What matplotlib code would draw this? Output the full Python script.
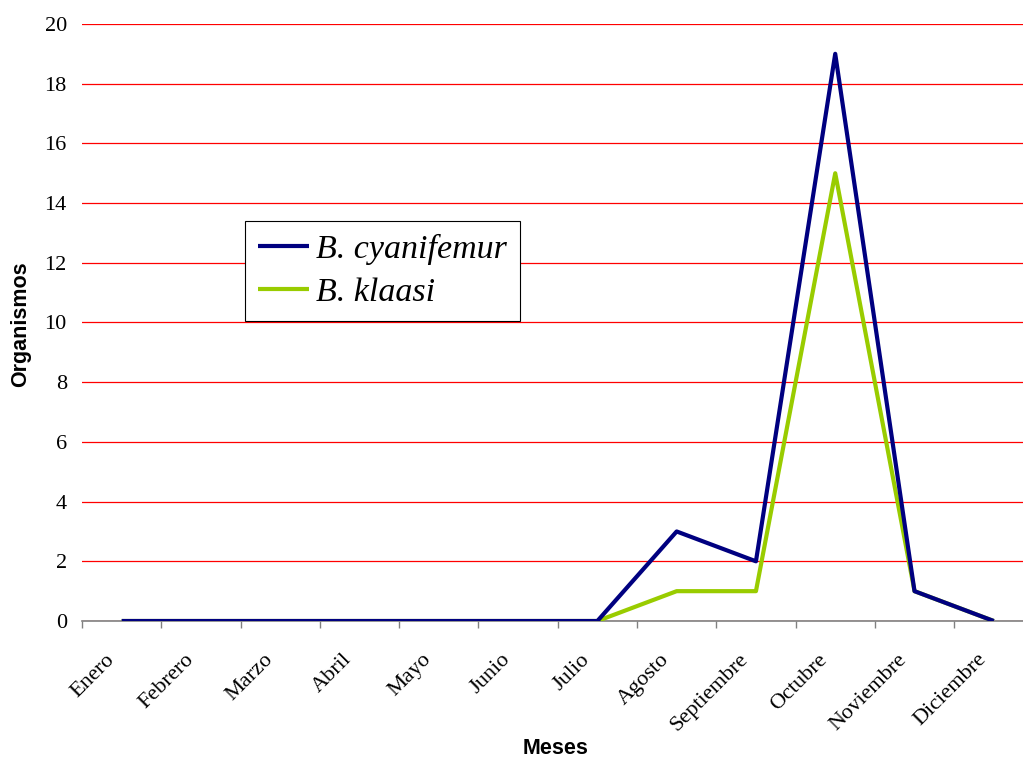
import matplotlib.pyplot as plt
import matplotlib.transforms as mtransforms
import numpy as np

meses = ['Enero', 'Febrero', 'Marzo', 'Abril', 'Mayo', 'Junio', 'Julio',
         'Agosto', 'Septiembre', 'Octubre', 'Noviembre', 'Diciembre']
cyanifemur = [0, 0, 0, 0, 0, 0, 0, 3, 2, 19, 1, 0]
klaasi = [0, 0, 0, 0, 0, 0, 0, 1, 1, 15, 1, 0]

serif = 'Liberation Serif'
sans = 'Liberation Sans'

fig = plt.figure(figsize=(10.23, 7.59), dpi=100)
# plot area runs slightly past the right edge of the figure
ax = fig.add_axes([0.0802, 0.1818, 0.930, 0.7866])

x = np.arange(len(meses))
ax.plot(x, klaasi, color='#99CC00', lw=3.0, solid_capstyle='butt', label='B. klaasi', zorder=3)
ax.plot(x, cyanifemur, color='#000080', lw=3.0, solid_capstyle='butt', label='B. cyanifemur', zorder=4)

ax.set_xlim(-0.5, len(meses) - 0.5)
ax.set_ylim(0, 20)
ax.set_yticks(np.arange(0, 21, 2))
ax.yaxis.grid(True, color='#FF0000', lw=0.9)
ax.set_axisbelow(True)

# category ticks sit on the boundaries, labels at the centres
ax.set_xticks(np.arange(-0.5, len(meses), 1.0))
ax.set_xticklabels([])
ax.set_xticks(x, minor=True)
ax.set_xticklabels(meses, minor=True, rotation=45, ha='right', rotation_mode='anchor',
                   fontfamily=serif, fontsize=16)
ax.tick_params(axis='x', which='major', length=5, color='#808080', width=1)
ax.tick_params(axis='x', which='minor', length=0, pad=21)
ax.tick_params(axis='y', length=0, pad=11, labelsize=16)
for lab in ax.get_yticklabels():
    lab.set_fontfamily(serif)

# nudge the rotated month names to the left of their category centre
shift = mtransforms.ScaledTranslation(-17 / 100, 0, fig.dpi_scale_trans)
for lab in ax.get_xticklabels(minor=True):
    lab.set_transform(lab.get_transform() + shift)

for s in ['top', 'right', 'left']:
    ax.spines[s].set_visible(False)
ax.spines['bottom'].set_color('#808080')
ax.spines['bottom'].set_linewidth(1.2)

ax.set_ylabel('Organismos', fontfamily=sans, fontweight='bold', fontsize=15.5)
ax.yaxis.set_label_coords(-0.0535, 0.497)
ax.set_xlabel('Meses', fontfamily=sans, fontweight='bold', fontsize=15.5)
ax.xaxis.set_label_coords(0.498, -0.196)

h, l = ax.get_legend_handles_labels()
leg = ax.legend(h[::-1], l[::-1], loc='upper left', bbox_to_anchor=(0.171, 0.670),
                prop={'family': serif, 'style': 'italic', 'size': 24.5},
                frameon=True, fancybox=False, edgecolor='black', framealpha=1,
                handlelength=1.5, handletextpad=0.22, borderpad=0.38, labelspacing=0.36,
                borderaxespad=0)
leg.get_frame().set_linewidth(0.8)

fig.savefig('out.png', dpi=100)
